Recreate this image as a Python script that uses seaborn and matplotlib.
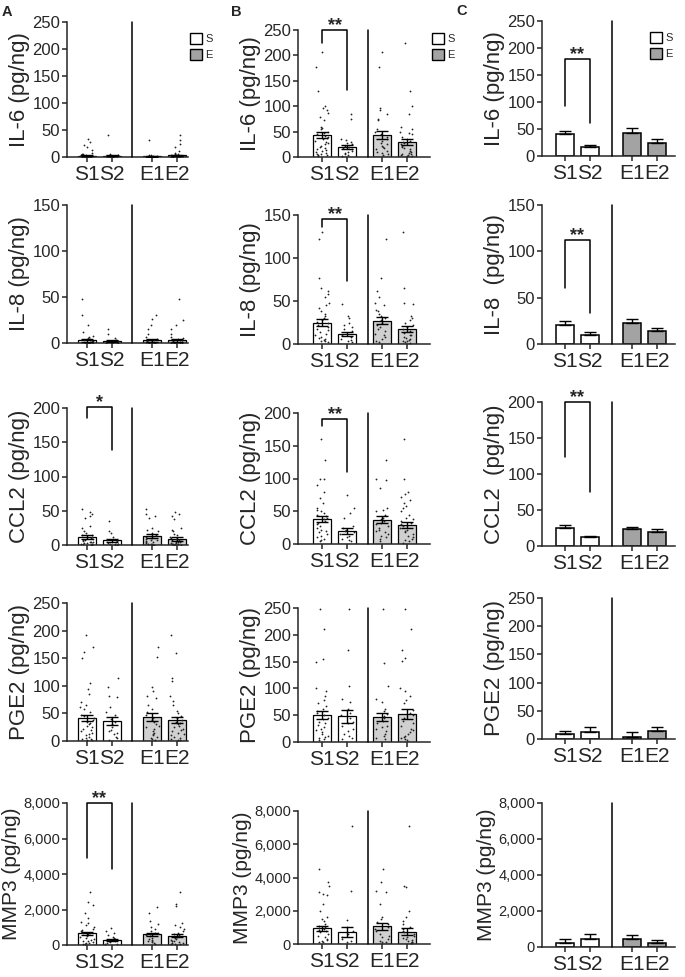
import numpy as np
import pandas as pd
import matplotlib
matplotlib.use("Agg")
import matplotlib.pyplot as plt
from matplotlib.patches import Patch
from matplotlib.ticker import StrMethodFormatter
import seaborn as sns

# ---------------- data ----------------
groups = ["S1", "S2", "E1", "E2"]
analytes = ["IL-6", "IL-8", "CCL2", "PGE2", "MMP3"]
y_max = [250, 150, 200, 250, 8000]
y_step = [50, 50, 50, 50, 2000]

# column A: individual points [S1, S2, E1, E2]
a_il6 = [[33, 28, 23, 18, 13, 8, 6, 5, 4, 3, 3, 2, 2, 2, 1.5, 1, 1, 1, 0.8, 0.5, 0.5, 0.3, 0.2, 0.1, 0, 0, 0],
         [40, 6, 4, 3, 2, 2, 1.5, 1, 1, 0.5, 0.5, 0.2, 0.1, 0, 0],
         [32, 4, 3, 2, 1.5, 1, 1, 0.8, 0.5, 0.3, 0.2, 0.1, 0, 0, 0],
         [40, 32, 25, 18, 12, 8, 6, 5, 4, 3, 2, 2, 1.5, 1, 1, 0.5, 0.5, 0.2, 0.1, 0, 0, 0]]
a_il8 = [[48, 30, 20, 12, 8, 6, 5, 4, 3, 2, 2, 1.5, 1, 1, 0.5, 0.5, 0.3, 0.2, 0, 0],
         [15, 10, 5, 3, 2, 1, 1, 0.5, 0.2, 0],
         [30, 26, 20, 15, 10, 6, 4, 3, 2, 1.5, 1, 1, 0.5, 0.3, 0, 0],
         [48, 25, 20, 15, 10, 6, 5, 4, 3, 2, 1.5, 1, 1, 0.5, 0.5, 0.2, 0, 0]]
a_ccl2 = [[52, 48, 45, 42, 40, 28, 25, 20, 18, 15, 14, 12, 10, 9, 8, 7, 6, 5, 5, 4, 3, 3, 2, 2, 1, 1, 0.5, 0],
          [35, 20, 18, 12, 8, 6, 5, 4, 3, 2, 2, 1, 1, 0.5, 0],
          [52, 45, 42, 40, 25, 22, 20, 18, 15, 12, 10, 9, 8, 7, 6, 5, 4, 3, 2, 2, 1, 0.5, 0],
          [48, 45, 42, 38, 25, 22, 20, 16, 14, 12, 10, 9, 8, 7, 6, 5, 5, 4, 3, 3, 2, 2, 1, 1, 0.5, 0]]
a_pge2 = [[192, 170, 162, 150, 105, 95, 85, 70, 66, 62, 58, 52, 48, 45, 42, 38, 35, 32, 30, 28, 25, 22, 20, 18, 15, 12, 10, 8, 6, 4, 3, 2, 1],
          [115, 98, 82, 80, 62, 52, 48, 40, 35, 30, 25, 20, 18, 15, 12, 8, 5, 2],
          [170, 152, 97, 90, 82, 78, 65, 58, 52, 48, 42, 38, 35, 30, 28, 25, 22, 18, 15, 12, 10, 8, 5, 3, 1],
          [192, 160, 115, 108, 82, 72, 65, 55, 50, 45, 42, 38, 35, 32, 30, 28, 25, 22, 20, 18, 15, 12, 10, 8, 5, 4, 2, 1]]
a_mmp3 = [[3000, 2400, 2250, 1800, 1500, 1300, 1250, 1100, 1000, 900, 850, 800, 750, 700, 650, 600, 550, 500, 450, 400, 350, 300, 250, 200, 150, 120, 100, 80, 60, 40],
          [950, 800, 650, 550, 450, 400, 350, 300, 250, 200, 150, 100, 80, 50],
          [2150, 1800, 1350, 1200, 1000, 900, 800, 700, 650, 600, 550, 500, 400, 350, 300, 250, 200, 150, 100, 50],
          [3000, 2300, 2200, 1250, 1100, 1000, 900, 800, 700, 600, 550, 500, 450, 400, 350, 300, 250, 200, 150, 120, 100, 80, 60, 40]]

# column B: individual points [S1, S2, E1, E2]
b_il6 = [[207, 177, 130, 100, 97, 92, 87, 78, 72, 60, 57, 55, 50, 48, 45, 42, 40, 38, 35, 32, 30, 28, 25, 22, 20, 18, 16, 14, 12, 10, 8, 6, 5, 4, 3, 2],
         [85, 75, 36, 33, 30, 28, 25, 22, 20, 18, 15, 12, 10, 8, 6, 4, 2],
         [207, 177, 97, 92, 85, 75, 72, 55, 50, 45, 40, 35, 32, 28, 25, 22, 20, 18, 15, 12, 10, 8, 5, 3],
         [225, 130, 100, 85, 60, 55, 50, 48, 45, 40, 35, 32, 30, 28, 25, 22, 20, 18, 15, 12, 10, 8, 6, 5, 4, 3, 2, 1]]
b_il8 = [[130, 122, 77, 65, 62, 58, 55, 48, 45, 42, 38, 35, 32, 30, 28, 26, 24, 22, 20, 18, 16, 14, 12, 10, 8, 7, 6, 5, 4, 3, 2],
         [47, 33, 30, 25, 22, 20, 17, 15, 12, 10, 8, 6, 5, 3, 2],
         [122, 77, 62, 55, 48, 45, 40, 38, 35, 32, 30, 28, 25, 22, 20, 18, 15, 12, 10, 8, 6, 4, 2],
         [130, 65, 48, 46, 32, 30, 28, 25, 22, 20, 18, 15, 13, 11, 10, 8, 7, 6, 5, 4, 3, 2, 1]]
b_ccl2 = [[160, 128, 100, 100, 90, 80, 70, 62, 55, 52, 50, 48, 45, 42, 40, 38, 35, 32, 30, 28, 25, 22, 20, 18, 15, 12, 10, 8, 6, 4],
          [75, 55, 48, 40, 27, 25, 22, 20, 18, 15, 12, 10, 8, 6, 4],
          [128, 100, 97, 85, 55, 52, 50, 45, 40, 38, 35, 32, 30, 28, 25, 22, 20, 18, 15, 12, 10, 8, 5],
          [160, 100, 80, 77, 72, 67, 62, 58, 55, 50, 45, 40, 38, 35, 32, 30, 28, 25, 22, 20, 18, 15, 12, 10, 8, 6, 4, 2]]
b_pge2 = [[248, 210, 155, 150, 100, 95, 85, 78, 72, 68, 62, 58, 55, 50, 45, 42, 38, 35, 32, 28, 25, 22, 18, 15, 12, 10, 8, 5, 3],
          [248, 172, 105, 80, 75, 62, 55, 50, 45, 38, 35, 30, 25, 20, 15, 12, 8, 5],
          [248, 148, 105, 80, 75, 62, 58, 52, 48, 45, 40, 35, 30, 28, 25, 20, 15, 12, 8, 5],
          [248, 210, 172, 157, 152, 100, 95, 85, 78, 72, 60, 55, 50, 45, 40, 35, 30, 25, 22, 18, 15, 12, 10, 8, 5, 3]]
b_mmp3 = [[4500, 3700, 3500, 3100, 3000, 2950, 2400, 2000, 1600, 1500, 1400, 1200, 1100, 1000, 950, 900, 850, 800, 700, 600, 500, 400, 300, 250, 200, 150, 100],
          [7100, 3200, 1450, 1000, 800, 600, 400, 300, 200, 150],
          [4500, 3700, 3200, 3100, 2400, 1600, 1500, 1300, 1200, 1000, 900, 800, 600, 500, 400, 300, 200, 150, 100],
          [7100, 3500, 3400, 2000, 1600, 1400, 1200, 1000, 900, 800, 700, 600, 500, 400, 350, 300, 250, 200, 150, 100, 80, 50]]

# bar means and SEM, one row per analyte, [S1, S2, E1, E2]
a_mean = [[2, 2, 1.5, 3], [3, 2, 3, 3], [12, 7, 13, 9], [42, 36, 44, 38], [650, 300, 600, 520]]
a_sem = [[1, 1, 1, 1.5], [1.5, 1, 1.5, 1.5], [3, 2, 3, 2.5], [6, 7, 7, 6], [90, 60, 80, 90]]
b_mean = [[43, 19, 44, 30], [25, 12, 27, 17], [38, 20, 37, 29], [50, 48, 47, 52], [950, 750, 1070, 750]]
b_sem = [[6, 4, 8, 6], [4, 2.5, 4, 3.5], [5, 4, 5, 5], [7, 12, 8, 9], [150, 300, 200, 200]]
c_mean = [[40, 16, 42, 25], [21, 10, 23, 14], [25, 12, 23, 20], [8, 12, 3, 15], [250, 420, 450, 200]]
c_sem = [[7, 5, 9, 7], [3.5, 2.5, 4, 3], [3.5, 2.5, 3.5, 3.5], [6, 10, 10, 7], [170, 330, 200, 200]]

a_points = [a_il6, a_il8, a_ccl2, a_pge2, a_mmp3]
b_points = [b_il6, b_il8, b_ccl2, b_pge2, b_mmp3]

# significance brackets: (column, row) -> (top, left leg end, right leg end, label)
brackets = {
    ("A", 2): (202, 185, 138, "*"),
    ("A", 4): (8000, 4900, 4300, "**"),
    ("B", 0): (250, 224, 132, "**"),
    ("B", 1): (145, 136, 73, "**"),
    ("B", 2): (191, 180, 110, "**"),
    ("C", 0): (180, 93, 61, "**"),
    ("C", 1): (112, 60, 33, "**"),
    ("C", 2): (200, 124, 75, "**"),
}

# ---------------- layout (pixels) ----------------
W, H = 685, 977
cols = {
    "A": dict(left=67, right=188, pos=[0, 1, 2.6, 3.6], div=1.8, xlim=(-0.8, 4.04),
              rows=[(22, 157), (205, 343), (408, 545), (603, 741), (803, 945)],
              legend=(190, 33), letter=(2, 5)),
    "B": dict(left=298, right=430, pos=[0, 1, 2.4, 3.4], div=1.84, xlim=(-0.96, 4.32),
              rows=[(30, 157), (215, 344), (413, 544), (608, 742), (811, 944)],
              legend=(432, 33), letter=(231, 5)),
    "C": dict(left=542, right=675, pos=[0, 1, 2.68, 3.68], div=1.88, xlim=(-0.92, 4.4),
              rows=[(21, 156), (205, 344), (402, 546), (598, 739), (803, 947)],
              legend=(650, 32), letter=(456, 4)),
}
ylabels_c = ["IL-6 (pg/ng)", "IL-8  (pg/ng)", "CCL2  (pg/ng)", "PGE2 (pg/ng)", "MMP3 (pg/ng)"]

sns.set_style("ticks")
plt.rcParams["font.family"] = ["Liberation Sans", "DejaVu Sans"]
plt.rcParams["axes.linewidth"] = 1.1
np.random.seed(3)

gray_light = "#d0d0d0"
gray_dark = "#a3a3a3"

fig = plt.figure(figsize=(W / 100, H / 100), dpi=100)

for col, cfg in cols.items():
    pos = cfg["pos"]
    for r in range(5):
        top, bot = cfg["rows"][r]
        ax = fig.add_axes([cfg["left"] / W, 1 - bot / H,
                           (cfg["right"] - cfg["left"]) / W, (bot - top) / H])

        if col == "A":
            means, sems, pts = a_mean[r], a_sem[r], a_points[r]
        elif col == "B":
            means, sems, pts = b_mean[r], b_sem[r], b_points[r]
        else:
            means, sems, pts = c_mean[r], c_sem[r], None

        egray = gray_dark if col == "C" else gray_light
        bar_df = pd.DataFrame({"x": pos, "mean": means, "grp": ["S", "S", "E", "E"]})
        sns.barplot(data=bar_df, x="x", y="mean", hue="grp",
                    palette={"S": "white", "E": egray}, native_scale=True,
                    dodge=False, width=0.7, edgecolor="black",
                    linewidth=1.1 if col == "C" else 0.9,
                    errorbar=None, legend=False, ax=ax)

        if pts is not None:
            dot_df = pd.DataFrame({
                "x": np.repeat(pos, [len(v) for v in pts]),
                "y": np.concatenate(pts),
            })
            sns.stripplot(data=dot_df, x="x", y="y", native_scale=True,
                          jitter=0.27, size=1.3, color="#222222", ax=ax, zorder=3)
            lower = sems
        else:
            lower = [0, 0, 0, 0]

        ax.errorbar(pos, means, yerr=[lower, sems], fmt="none", ecolor="black",
                    elinewidth=1.0, capsize=4, capthick=1.0, zorder=4)

        ym = y_max[r]
        ax.plot([cfg["div"], cfg["div"]], [0, ym], color="black", lw=1.1,
                clip_on=False, zorder=5)

        ax.set_xlim(*cfg["xlim"])
        ax.set_ylim(0, ym)
        ax.set_yticks(np.arange(0, ym + 1, y_step[r]))
        if r == 4:
            ax.yaxis.set_major_formatter(StrMethodFormatter("{x:,.0f}"))
        ax.set_xticks(pos)
        ax.set_xticklabels(groups)
        ax.tick_params(axis="x", labelsize=15, length=3.5, width=1.1, pad=2.5)
        ax.tick_params(axis="y", labelsize=10.5 if r == 4 else 12,
                       length=3.5, width=1.1, pad=1.5)
        ax.set_xlabel("")
        lab = ylabels_c[r] if col == "C" else analytes[r] + " (pg/ng)"
        ax.set_ylabel(lab, fontsize=15 if r == 4 else 16, labelpad=1.5)
        sns.despine(ax=ax)

        if (col, r) in brackets:
            yt, yl, yr, star = brackets[(col, r)]
            x1, x2 = pos[0], pos[1]
            ax.plot([x1, x1, x2, x2], [yl, yt, yt, yr], color="black", lw=1.1,
                    clip_on=False, zorder=5)
            ax.text((x1 + x2) / 2, yt, star, ha="center", va="baseline",
                    fontsize=13, fontweight="bold", clip_on=False)

    # legend and panel letter
    lx, ly = cfg["legend"]
    handles = [Patch(facecolor="white", edgecolor="black", linewidth=1.0),
               Patch(facecolor=gray_dark, edgecolor="black", linewidth=1.0)]
    fig.legend(handles, ["S", "E"], loc="upper left",
               bbox_to_anchor=(lx / W, 1 - ly / H), frameon=False, fontsize=8,
               handlelength=1.1, handleheight=1.1, handletextpad=0.25,
               labelspacing=0.45, borderpad=0, borderaxespad=0)
    tx, ty = cfg["letter"]
    fig.text(tx / W, 1 - ty / H, col, ha="left", va="top",
             fontsize=10.5, fontweight="bold")

fig.savefig("out.png", dpi=100)
plt.close(fig)
